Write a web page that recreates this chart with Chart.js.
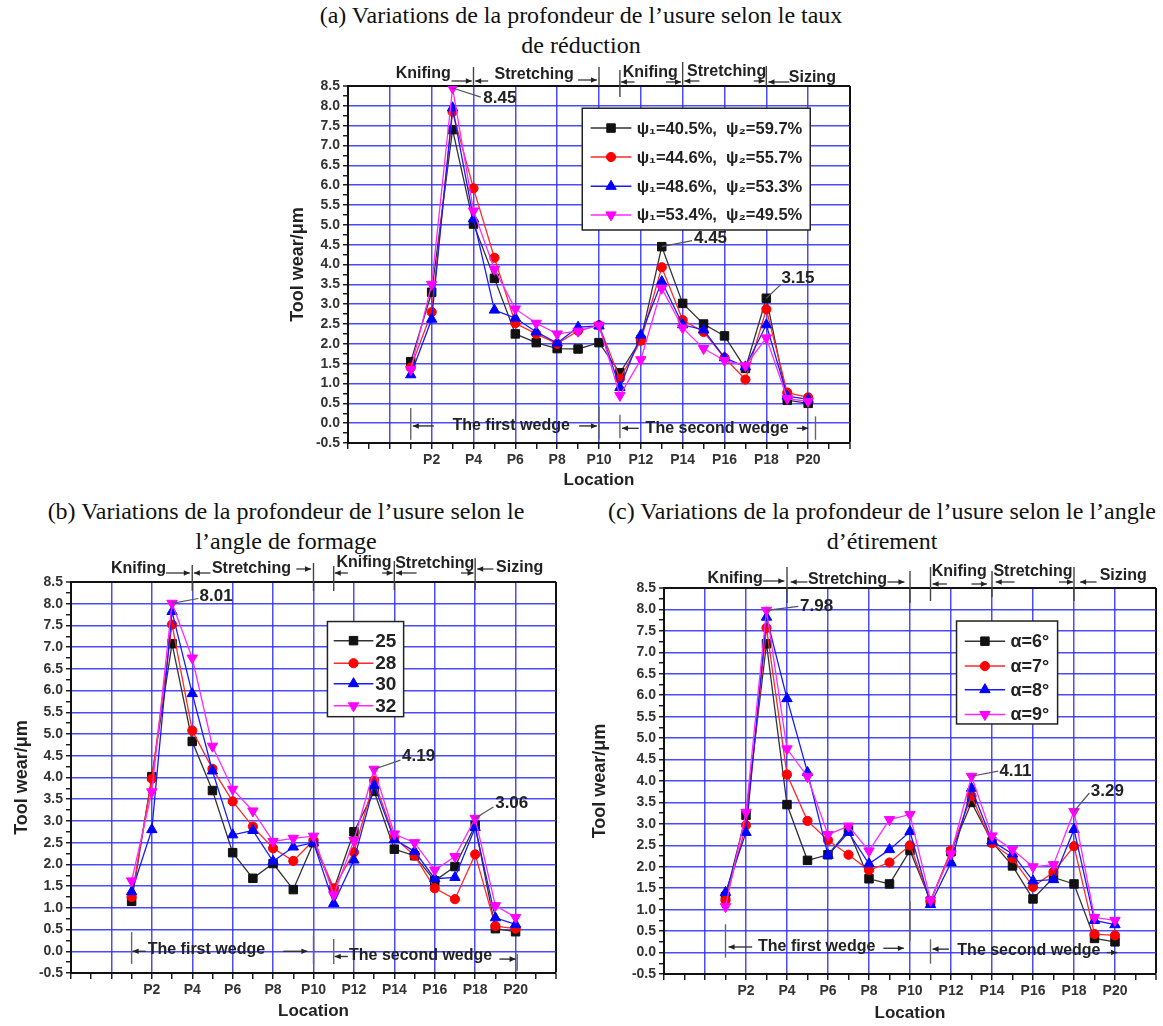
<!DOCTYPE html>
<html><head><meta charset="utf-8">
<script src="https://cdn.jsdelivr.net/npm/chart.js@4/dist/chart.umd.min.js"></script>
<style>
html,body{margin:0;padding:0;background:#fff;}
body{width:1163px;height:1026px;overflow:hidden;position:relative;}
.t{position:absolute;font-family:"Liberation Serif","DejaVu Serif",serif;font-size:24px;color:#111;text-align:center;white-space:nowrap;line-height:30px;}
canvas{position:absolute;}
</style></head><body>
<div class="t" style="left:281px;top:0px;width:600px;">(a) Variations de la profondeur de l’usure selon le taux<br>de réduction</div>
<div class="t" style="left:-14px;top:496px;width:600px;">(b) Variations de la profondeur de l’usure selon le<br>l’angle de formage</div>
<div class="t" style="left:582px;top:496px;width:600px;">(c) Variations de la profondeur de l’usure selon le l’angle<br>d’étirement</div>
<canvas id="ca" width="585" height="444" style="left:280px;top:56px"></canvas>
<canvas id="cb" width="570" height="476" style="left:0px;top:550px"></canvas>
<canvas id="cc" width="588" height="476" style="left:575px;top:550px"></canvas>
<script>
// ---------- data ----------
const locations = ['P1','P2','P3','P4','P5','P6','P7','P8','P9','P10','P11','P12','P13','P14','P15','P16','P17','P18','P19','P20'];

const rateLabels = ['ψ₁=40.5%,  ψ₂=59.7%','ψ₁=44.6%,  ψ₂=55.7%','ψ₁=48.6%,  ψ₂=53.3%','ψ₁=53.4%,  ψ₂=49.5%'];
const rate1 = [1.55,3.3,7.4,5.02,3.65,2.25,2.03,1.88,1.87,2.03,1.27,2.1,4.45,3.02,2.5,2.2,1.38,3.15,0.58,0.5];
const rate2 = [1.4,2.8,7.85,5.92,4.17,2.52,2.25,2.0,2.33,2.47,1.12,2.08,3.93,2.6,2.3,1.65,1.1,2.87,0.77,0.65];
const rate3 = [1.22,2.62,7.95,5.15,2.85,2.65,2.3,2.02,2.42,2.45,0.9,2.22,3.57,2.48,2.35,1.65,1.42,2.48,0.68,0.6];
const rate4 = [1.35,3.5,8.45,5.35,3.88,2.88,2.52,2.25,2.32,2.47,0.7,1.6,3.4,2.4,1.88,1.58,1.45,2.15,0.62,0.55];

const formLabels = ['25','28','30','32'];
const form1 = [1.15,4.02,7.08,4.83,3.7,2.27,1.68,2.02,1.42,2.5,1.42,2.75,3.68,2.35,2.2,1.62,1.95,2.9,0.52,0.45];
const form2 = [1.25,3.97,7.52,5.08,4.2,3.45,2.87,2.37,2.08,2.55,1.45,2.28,3.93,2.62,2.2,1.45,1.2,2.23,0.58,0.52];
const form3 = [1.37,2.8,7.82,5.93,4.15,2.68,2.78,2.07,2.4,2.5,1.1,2.1,3.82,2.57,2.3,1.67,1.7,2.85,0.77,0.62];
const form4 = [1.62,3.67,8.01,6.75,4.72,3.73,3.23,2.53,2.6,2.65,1.3,2.55,4.19,2.7,2.5,1.87,2.18,3.06,1.05,0.78];

const angleLabels = ['α=6°','α=7°','α=8°','α=9°'];
const angle1 = [1.3,3.2,7.2,3.45,2.15,2.28,2.85,1.72,1.6,2.38,1.2,2.35,3.5,2.58,2.02,1.25,1.75,1.6,0.33,0.25];
const angle2 = [1.22,2.97,7.57,4.15,3.07,2.62,2.28,1.92,2.1,2.5,1.2,2.38,3.65,2.55,2.2,1.53,1.88,2.48,0.43,0.4];
const angle3 = [1.4,2.8,7.82,5.92,4.2,2.27,2.8,2.07,2.4,2.82,1.12,2.1,3.83,2.6,2.3,1.67,1.7,2.87,0.75,0.65];
const angle4 = [1.07,3.27,7.98,4.75,4.1,2.75,2.95,2.37,3.1,3.22,1.22,2.3,4.11,2.72,2.4,2.0,2.05,3.29,0.82,0.75];

// ---------- styles ----------
const FONT = '"Liberation Sans", Arial, sans-serif';
const GRID = 'rgba(45,45,255,0.85)';
const STY = [
  {line:'#333333', fill:'#111111', shape:'rect', rot:0, r:6},
  {line:'#ff2a2a', fill:'#ff0000', shape:'circle', rot:0, r:4.6},
  {line:'#1a1aff', fill:'#0000ff', shape:'triangle', rot:0, r:6},
  {line:'#ff2aff', fill:'#ff00ff', shape:'triangle', rot:180, r:6}
];

function mkDatasets(series, labels){
  return series.map((vals,i)=>({
    label: labels[i],
    data: vals.map((v,j)=>({x:j+1, y:v})),
    borderColor: STY[i].line, backgroundColor: STY[i].fill,
    pointBackgroundColor: STY[i].fill, pointBorderColor: STY[i].fill,
    pointStyle: STY[i].shape, pointRotation: STY[i].rot, pointRadius: STY[i].r,
    pointBorderWidth: 1, borderWidth: 1.3, tension: 0, order: 4-i
  }));
}

function marker(ctx, shape, rot, r, x, y){
  ctx.beginPath();
  if (shape==='rect'){ const s=r*Math.SQRT1_2; ctx.rect(x-s,y-s,2*s,2*s); }
  else if (shape==='circle'){ ctx.arc(x,y,r,0,Math.PI*2); }
  else {
    let a = rot*Math.PI/180;
    ctx.moveTo(x+Math.sin(a)*r, y-Math.cos(a)*r);
    a += 2*Math.PI/3; ctx.lineTo(x+Math.sin(a)*r, y-Math.cos(a)*r);
    a += 2*Math.PI/3; ctx.lineTo(x+Math.sin(a)*r, y-Math.cos(a)*r);
    ctx.closePath();
  }
  ctx.fill(); ctx.stroke();
}
function arrow(ctx, x0, y, x1){
  ctx.beginPath(); ctx.moveTo(x0,y); ctx.lineTo(x1,y); ctx.stroke();
  const d = Math.sign(x1-x0)||1;
  ctx.beginPath(); ctx.moveTo(x1,y); ctx.lineTo(x1-d*6,y-2.8); ctx.lineTo(x1-d*6,y+2.8); ctx.closePath(); ctx.fill();
}

// ---------- layout specs (positions in axis units / pixel offsets) ----------
const SPECS = {
  ca: {
    series:[rate1,rate2,rate3,rate4], labels:rateLabels,
    pad:{top:30,right:15,left:0,bottom:0}, yW:68, xH:57, yTitlePad:7, xTitlePad:9,
    top:{texts:[['Knifing',1.6,-12],['Stretching',6.9,-11],['Knifing',12.45,-13],['Stretching',16.1,-14],['Sizing',20.2,-8]],
         lines:[[4,-19,0],[10,-19,0],[11,-16,11],[14,-24,0],[18,-20,0]],
         arrows:[[2.95,3.92,-5],[4.7,4.08,-5],[9.0,9.9,-6],[11.7,11.05,-4],[13.2,13.92,-4],[14.8,14.08,-5],[17.4,17.92,-5],[19.1,18.1,-4]]},
    bot:{lines:[[1,0.38,-0.42],[10,0.42,-0.42],[11,0.21,-0.38],[20.35,0.17,-0.42]],
         texts:[['The first wedge',5.8,-0.07],['The second wedge',15.65,-0.13]],
         arrows:[[2.1,1.1,-0.07],[9.05,9.9,-0.07],[11.9,11.1,-0.13],[19.45,20.0,-0.13]]},
    peaks:[{s:3,i:2,tx:4.47,ty:8.19,lx:4.35,ly:8.22},{s:0,i:12,tx:14.54,ty:4.65,lx:14.45,ly:4.6},{s:0,i:17,tx:18.72,ty:3.66,lx:18.7,ly:3.5}],
    legend:{box:[9.2,20.1,7.94,4.87], rows:[7.44,6.71,5.97,5.25], sample:[9.6,11.55], tx:11.8, font:'bold 16.5px '+FONT}
  },
  cb: {
    series:[form1,form2,form3,form4], labels:formLabels,
    pad:{top:32,right:14,left:0,bottom:0}, yW:71, xH:53, yTitlePad:11, xTitlePad:4,
    top:{texts:[['Knifing',1.34,-13],['Stretching',6.93,-13],['Knifing',12.5,-19],['Stretching',16.0,-18],['Sizing',20.2,-14]],
         lines:[[4,-17,9],[10,-19,9],[11,-16,9],[14,-21,8],[18,-24,8]],
         arrows:[[2.7,3.88,-9],[4.9,4.08,-9],[9.15,9.88,-13],[11.7,11.05,-9],[13.4,13.92,-9],[15.1,14.08,-9],[17.3,17.92,-9],[18.9,18.1,-13]]},
    bot:{lines:[[1,0.44,-0.29],[10,0.36,-0.29],[11,0.28,-0.29],[20.08,-0.06,-0.45]],
         texts:[['The first wedge',4.7,0.05],['The second wedge',15.3,-0.1]],
         arrows:[[1.7,1.05,0.0],[8.5,9.7,0.0],[11.7,11.05,-0.12],[19.2,20.0,-0.18]]},
    peaks:[{s:3,i:2,tx:4.36,ty:8.17,lx:4.3,ly:8.12},{s:3,i:12,tx:14.38,ty:4.48,lx:14.3,ly:4.4},{s:3,i:17,tx:18.99,ty:3.4,lx:18.9,ly:3.32}],
    legend:{box:[10.69,14.46,7.59,5.4], rows:[7.15,6.63,6.16,5.65], sample:[11.0,12.96], tx:13.05, font:'bold 19px '+FONT}
  },
  cc: {
    series:[angle1,angle2,angle3,angle4], labels:angleLabels,
    pad:{top:38,right:1,left:0,bottom:0}, yW:89, xH:52, yTitlePad:14, xTitlePad:2,
    top:{texts:[['Knifing',1.47,-9],['Stretching',6.95,-8],['Knifing',12.4,-16],['Stretching',16.0,-16],['Sizing',20.4,-12]],
         lines:[[4,-21,15],[10,-17,15],[11,-21,13],[14,-17,9],[18,-21,13]],
         arrows:[[2.82,3.87,-7],[5.0,4.18,-6],[8.9,9.73,-6],[11.8,11.1,-4],[13.0,13.75,-4],[15.1,14.18,-6],[17.27,17.95,-6],[19.1,18.3,-6]]},
    bot:{lines:[[1,0.66,-0.12],[10,1.2,0.27],[11,0.31,-0.26]],
         texts:[['The first wedge',5.45,0.13],['The second wedge',15.8,0.04]],
         arrows:[[2.3,1.15,0.13],[8.7,9.7,0.1],[11.9,11.1,0.08],[19.6,20.1,0.0]]},
    peaks:[{s:3,i:2,tx:4.64,ty:8.07,lx:4.55,ly:8.07},{s:3,i:12,tx:14.36,ty:4.23,lx:14.3,ly:4.23},{s:3,i:17,tx:18.82,ty:3.77,lx:18.75,ly:3.72}],
    legend:{box:[12.27,17.2,7.73,5.33], rows:[7.26,6.68,6.13,5.55], sample:[12.67,14.64], tx:14.9, font:'bold 18px '+FONT}
  }
};

const decor = {
  id:'decor',
  afterDraw(chart){
    const o = SPECS[chart.canvas.id];
    const {ctx, chartArea:a} = chart;
    const X = chart.scales.x, Y = chart.scales.y;
    const px = v=>X.getPixelForValue(v), py = v=>Y.getPixelForValue(v);
    ctx.save();
    ctx.strokeStyle='#444'; ctx.fillStyle='#222'; ctx.lineWidth=1.4;
    ctx.textAlign='center'; ctx.textBaseline='middle';
    ctx.font='bold 16px '+FONT;
    // process stages above the plot
    o.top.texts.forEach(t=>ctx.fillText(t[0], px(t[1]), a.top+t[2]));
    o.top.lines.forEach(l=>{ctx.beginPath(); ctx.moveTo(px(l[0]), a.top+l[1]); ctx.lineTo(px(l[0]), a.top+l[2]); ctx.stroke();});
    o.top.arrows.forEach(r=>arrow(ctx, px(r[0]), a.top+r[2], px(r[1])));
    // wedges inside the plot
    ctx.strokeStyle='#666';
    o.bot.lines.forEach(l=>{ctx.beginPath(); ctx.moveTo(px(l[0]), py(l[1])); ctx.lineTo(px(l[0]), py(l[2])); ctx.stroke();});
    ctx.strokeStyle='#333';
    o.bot.texts.forEach(t=>ctx.fillText(t[0], px(t[1]), py(t[2])));
    o.bot.arrows.forEach(r=>arrow(ctx, px(r[0]), py(r[2]), px(r[1])));
    // peak values
    ctx.textAlign='left'; ctx.font='bold 17px '+FONT; ctx.strokeStyle='#555'; ctx.lineWidth=1.2;
    o.peaks.forEach(p=>{
      const v = chart.data.datasets[p.s].data[p.i];
      ctx.beginPath(); ctx.moveTo(px(v.x), py(v.y)); ctx.lineTo(px(p.lx), py(p.ly)); ctx.stroke();
      ctx.fillText(v.y.toFixed(2), px(p.tx), py(p.ty));
    });
    // legend
    const L = o.legend;
    const bx0=px(L.box[0]), bx1=px(L.box[1]), by0=py(L.box[2]), by1=py(L.box[3]);
    ctx.fillStyle='#fff'; ctx.fillRect(bx0,by0,bx1-bx0,by1-by0);
    ctx.strokeStyle='#222'; ctx.lineWidth=1.5; ctx.strokeRect(bx0,by0,bx1-bx0,by1-by0);
    ctx.font=L.font; ctx.textAlign='left';
    chart.data.datasets.forEach((ds,i)=>{
      const y=py(L.rows[i]), s0=px(L.sample[0]), s1=px(L.sample[1]);
      ctx.strokeStyle=ds.borderColor; ctx.lineWidth=1.5;
      ctx.beginPath(); ctx.moveTo(s0,y); ctx.lineTo(s1,y); ctx.stroke();
      ctx.fillStyle=ds.pointBackgroundColor; ctx.strokeStyle=ds.pointBorderColor; ctx.lineWidth=1;
      marker(ctx, ds.pointStyle, ds.pointRotation, ds.pointRadius, (s0+s1)/2, y);
      ctx.fillStyle='#222';
      ctx.fillText(ds.label, px(L.tx), y+1);
    });
    ctx.restore();
  }
};

function xScale(o){
  return {
    type:'linear', min:-2, max:22,
    ticks:{stepSize:1, autoSkip:false, maxRotation:0, minRotation:0,
      callback:v=>(v%2===0 && v>=2 && v<=20) ? locations[v-1] : '',
      font:{family:FONT, weight:'bold', size:14}, color:'#333', padding:3},
    grid:{
      color:c=>{const v=c.tick?c.tick.value:null; if(v===22) return '#111'; if(v!==null && v%2===0 && v>=0 && v<=20) return GRID; return 'transparent';},
      lineWidth:c=>(c.tick && c.tick.value===22)?2:1.5,
      drawTicks:true, tickLength:6, tickColor:'#111', tickWidth:1.4},
    border:{display:true, color:'#111', width:2},
    title:{display:true, text:'Location', font:{family:FONT, weight:'bold', size:17}, color:'#222', padding:{top:0,bottom:o.xTitlePad}},
    afterFit:s=>{s.height=o.xH;}
  };
}
function yScale(o){
  return {
    type:'linear', min:-0.5, max:8.5,
    ticks:{stepSize:0.25, autoSkip:false,
      callback:v=>(Math.round(v*4)%2===0) ? v.toFixed(1) : '',
      font:{family:FONT, weight:'bold', size:14}, color:'#333', padding:3},
    grid:{
      color:c=>{const v=c.tick?c.tick.value:null; if(v===null) return 'transparent'; if(Math.abs(v-8.5)<1e-9) return '#111'; if(Math.round(v*4)%2!==0 || v<-0.4) return 'transparent'; return GRID;},
      lineWidth:c=>(c.tick && Math.abs(c.tick.value-8.5)<1e-9)?2:1.5,
      drawTicks:true, tickLength:5, tickColor:'#111', tickWidth:1.4},
    border:{display:true, color:'#111', width:2},
    title:{display:true, text:'Tool wear/μm', font:{family:FONT, weight:'bold', size:18}, color:'#222', padding:{top:o.yTitlePad,bottom:0}},
    afterFit:s=>{s.width=o.yW;}
  };
}

Object.keys(SPECS).forEach(id=>{
  const o = SPECS[id];
  new Chart(document.getElementById(id), {
    type:'line',
    data:{datasets:mkDatasets(o.series, o.labels)},
    options:{
      responsive:false, animation:false, devicePixelRatio:1,
      layout:{padding:o.pad},
      plugins:{legend:{display:false}, tooltip:{enabled:false}},
      scales:{x:xScale(o), y:yScale(o)}
    },
    plugins:[decor]
  });
});
</script>
</body></html>
